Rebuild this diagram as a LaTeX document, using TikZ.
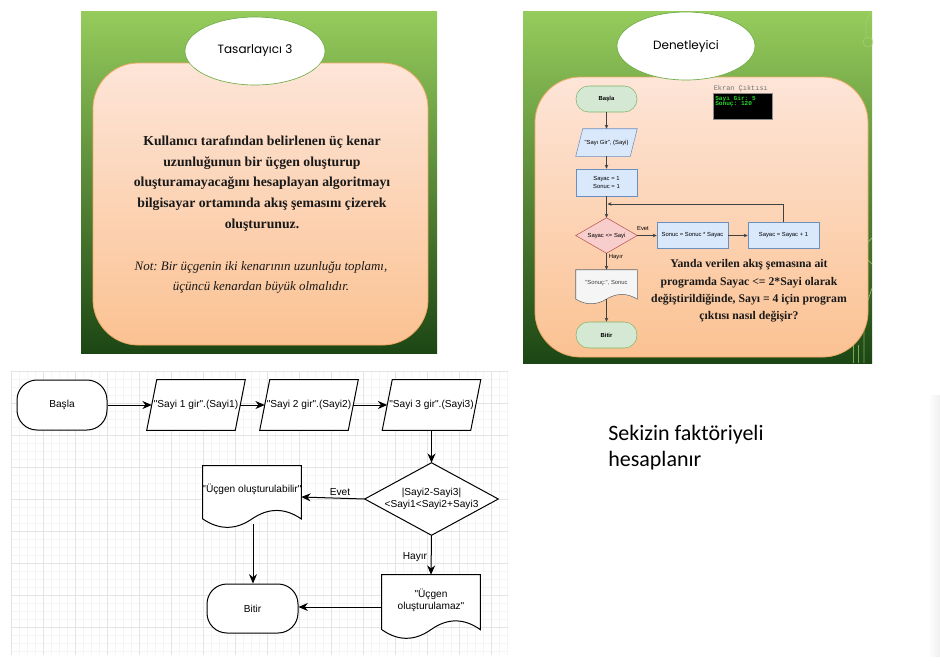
\documentclass[tikz,border=0pt]{standalone}
\usepackage{fontspec}
\setmainfont{Liberation Serif}
\newfontfamily\arialf{Liberation Sans}
\newfontfamily\gothf{Poppins}
\newfontfamily\calf{Carlito}
\newfontfamily\monof{Liberation Mono}
\usetikzlibrary{arrows.meta,calc,shapes.geometric}
\pgfdeclarelayer{back}
\pgfdeclarelayer{mid}
\pgfsetlayers{back,mid,main}
\frenchspacing
\definecolor{gtop}{RGB}{150,204,92}
\definecolor{gmid}{RGB}{88,152,52}
\definecolor{gbot}{RGB}{28,70,20}
\definecolor{ptop}{RGB}{253,229,216}
\definecolor{pbot}{RGB}{251,194,146}
\definecolor{pline}{RGB}{240,170,100}
\definecolor{ellline}{RGB}{112,173,71}
\definecolor{dgfill}{RGB}{213,232,212}
\definecolor{dgline}{RGB}{130,179,102}
\definecolor{dbfill}{RGB}{218,232,252}
\definecolor{dbline}{RGB}{108,142,191}
\definecolor{drfill}{RGB}{248,206,204}
\definecolor{drline}{RGB}{184,84,80}
\definecolor{dgrfill}{RGB}{245,245,245}
\definecolor{dgrline}{RGB}{102,102,102}
\definecolor{gridmin}{RGB}{245,245,245}
\definecolor{gridmaj}{RGB}{228,228,228}
\definecolor{termgreen}{RGB}{40,215,40}
\definecolor{txtdark}{RGB}{25,25,25}
\definecolor{decol}{RGB}{165,210,115}
\tikzset{
  sz/.style 2 args={minimum width=#1*0.75pt, minimum height=#2*0.75pt, inner sep=0pt},
  bfont/.style={font=\arialf\fontsize{7.6}{9}\selectfont},
  sfont/.style={font=\arialf\fontsize{4.4}{5.4}\selectfont},
  bline/.style={draw=black, line width=0.75pt, fill=white},
  barr/.style={draw=black, line width=0.75pt, -{Stealth[length=7pt,width=6pt]}},
  sarr/.style={draw=black!75, line width=0.4pt, -{Stealth[length=3pt,width=2.6pt]}},
  ellnode/.style={ellipse, fill=white, draw=ellline, line width=0.5pt, inner sep=0pt},
  greenpanel/.style={top color=gtop, middle color=gmid, bottom color=gbot},
  peachpanel/.style={top color=ptop, bottom color=pbot, draw=pline, line width=0.6pt, rounded corners=34pt},
  deco/.style={draw=decol, line width=0.6pt, opacity=0.7}
}
\newcommand{\parashape}[3]{%
  \begin{pgfonlayer}{mid}
  \draw[#1] ($(#2.south west)+(-#3,0)$) -- ($(#2.north west)+(#3,0)$) -- ($(#2.north east)+(#3,0)$) -- ($(#2.south east)+(-#3,0)$) -- cycle;
  \end{pgfonlayer}}
\newcommand{\diashape}[2]{%
  \begin{pgfonlayer}{mid}
  \draw[#1] (#2.north) -- (#2.east) -- (#2.south) -- (#2.west) -- cycle;
  \end{pgfonlayer}}
\newcommand{\docshape}[2]{%
  \begin{pgfonlayer}{mid}
  \draw[#1] let \p1=(#2.north west), \p2=(#2.south east), \n1={\x2-\x1}, \n2={\y1-\y2} in
    (\x1,\y1) -- (\x2,\y1) -- (\x2,\y2+0.15*\n2)
    .. controls (\x2-\n1/6,\y2+0.33*\n2) and (\x1+2*\n1/3,\y2+0.33*\n2) .. (\x1+\n1/2,\y2+0.15*\n2)
    .. controls (\x1+\n1/3,\y2-0.03*\n2) and (\x1+\n1/6,\y2-0.03*\n2) .. (\x1,\y2+0.15*\n2) -- cycle;
  \end{pgfonlayer}}
\begin{document}
\begin{tikzpicture}[x=0.75pt,y=-0.75pt]
\useasboundingbox (0,0) rectangle (940,662);
\begin{pgfonlayer}{back}
  \fill[white] (0,0) rectangle (940,662);
  % left panel
  \shade[greenpanel] (81,11) rectangle (437,353);
  \shadedraw[peachpanel] (93,63) rectangle (428,345);
  % right panel
  \shade[greenpanel] (523,11) rectangle (872,363);
  \draw[deco] (871,11) -- (866,22) -- (866,37);
  \draw[deco] (868,42) circle[radius=5];
  \draw[deco] (872,238) -- (866,244) -- (866,258) -- (872,264);
  \draw[deco] (872,288) -- (864,312) -- (864,363);
  \draw[deco] (853,330) -- (853,363);
  \draw[deco] (858,345) -- (858,363);
  \shadedraw[peachpanel] (535,77) rectangle (868,357);
  % grid
  \foreach \gx in {11,19,...,507} \draw[gridmin, line width=0.5pt] (\gx,371) -- (\gx,655);
  \foreach \gy in {371,379,...,655} \draw[gridmin, line width=0.5pt] (11,\gy) -- (508,\gy);
  \foreach \gx in {11,43,...,507} \draw[gridmaj, line width=0.5pt] (\gx,371) -- (\gx,655);
  \foreach \gy in {371,403,...,655} \draw[gridmaj, line width=0.5pt] (11,\gy) -- (508,\gy);
  % faint strip right
  \shade[left color=white, right color=black!6] (928,395) rectangle (940,656);
\end{pgfonlayer}

% ---------- left panel ----------
\node[ellnode, minimum width=105pt, minimum height=51pt] (e1) at (255,51) {\gothf\fontsize{9}{11}\selectfont Tasarlayıcı 3};
\node[align=center, text=txtdark, font=\bfseries\fontsize{10.3}{15.5}\selectfont] (t1) at (262,183.5)
  {Kullanıcı tarafından belirlenen üç kenar\\uzunluğunun bir üçgen oluşturup\\oluşturamayacağını hesaplayan algoritmayı\\bilgisayar ortamında akış şemasını çizerek\\oluşturunuz.};
\node[align=center, text=txtdark, font=\itshape\fontsize{9.7}{15}\selectfont] (t2) at (261,277)
  {Not: Bir üçgenin iki kenarının uzunluğu toplamı,\\üçüncü kenardan büyük olmalıdır.};

% ---------- right panel ----------
\node[ellnode, minimum width=103.5pt, minimum height=51pt] (e2) at (686,46) {\gothf\fontsize{9}{11}\selectfont Denetleyici};

\node[sz={61}{26}, rounded corners=9.5pt, fill=dgfill, draw=dgline, line width=0.4pt, sfont] (rb) at (606.5,99) {\bfseries Başla};
\node[sz={54}{27}, sfont] (rp) at (606.5,142.5) {"Sayı Gir", (Sayi)};
\parashape{fill=dbfill, draw=dbline, line width=0.4pt}{rp}{3.5}
\node[sz={61}{27}, fill=dbfill, draw=dbline, line width=0.4pt, sfont, align=center] (ri) at (606.5,182.5) {Sayac = 1\\Sonuc = 1};
\node[sz={61}{35}, sfont] (rd) at (606.5,235.5) {Sayac <= Sayi};
\diashape{fill=drfill, draw=drline, line width=0.4pt}{rd}
\node[sz={71}{26}, fill=dbfill, draw=dbline, line width=0.4pt, sfont] (r3) at (692.5,235.5) {Sonuc = Sonuc * Sayac};
\node[sz={71}{26}, fill=dbfill, draw=dbline, line width=0.4pt, sfont] (r4) at (783.5,235.5) {Sayac = Sayac + 1};
\node[sz={61}{34}] (rdoc) at (606.5,287) {};
\docshape{fill=dgrfill, draw=dgrline, line width=0.4pt}{rdoc}
\node[sfont, text=black!75] (rdoct) at (606.5,283.5) {"Sonuç:", Sonuc};
\node[sz={61}{26}, rounded corners=9.5pt, fill=dgfill, draw=dgline, line width=0.4pt, sfont] (rbt) at (606.5,335) {\bfseries Bitir};
\coordinate (rj) at (607.5,204);

\draw[sarr] (rb.south) -- (rp.north);
\draw[sarr] (rp.south) -- (ri.north);
\draw[sarr] (ri.south) -- (rd.north);
\draw[sarr] (rd.east) -- (r3.west);
\node[sfont] (lev) at (643,229) {Evet};
\draw[sarr] (r3.east) -- (r4.west);
\draw[sarr] (r4.north) |- (rj);
\draw[sarr] (rd.south) -- (rdoc.north);
\node[sfont] (lhy) at (616,257.5) {Hayır};
\draw[sarr] ($(rdoc.south)+(0,-5)$) -- (rbt.north);

\node[anchor=west, inner sep=0pt, text=black!55, font=\monof\fontsize{5.2}{6}\selectfont] (ekl) at (713.5,89) {Ekran Çıktısı};
\node[sz={59}{26}, anchor=north west, fill=black, draw=black!45, line width=0.4pt] (scr) at (713,93) {};
\node[anchor=west, inner sep=0pt, text=termgreen, font=\monof\bfseries\fontsize{4.6}{5.5}\selectfont] (scr1) at (715,98.5) {Sayı Gir: 5};
\node[anchor=west, inner sep=0pt, text=termgreen, font=\monof\bfseries\fontsize{4.6}{5.5}\selectfont] (scr2) at (715,104.5) {Sonuç: 120};

\node[align=center, text=txtdark, font=\bfseries\fontsize{8.8}{13}\selectfont] (t3) at (749,291)
  {Yanda verilen akış şemasına ait\\programda Sayac <= 2*Sayi olarak\\değiştirildiğinde, Sayı = 4 için program\\çıktısı nasıl değişir?};

% ---------- bottom flowchart ----------
\node[sz={90}{50}, bline, rounded corners=15pt, bfont] (bsl) at (62,405) {Başla};
\node[sz={88}{50}, bfont] (p1) at (196,405) {"Sayi 1 gir".(Sayi1)};
\parashape{bline}{p1}{5}
\node[sz={88}{50}, bfont] (p2) at (309,405) {"Sayi 2 gir".(Sayi2)};
\parashape{bline}{p2}{5}
\node[sz={88}{50}, bfont] (p3) at (431.5,405) {"Sayi 3 gir".(Sayi3)};
\parashape{bline}{p3}{5}
\node[sz={133}{72}, bfont, align=center] (dia) at (431.5,499) {|Sayi2-Sayi3|\\<Sayi1<Sayi2+Sayi3};
\diashape{bline}{dia}
\node[sz={98}{62}] (d1) at (252,497) {};
\docshape{bline}{d1}
\node[bfont] (d1t) at (252,489) {"Üçgen oluşturulabilir"};
\node[sz={91}{49}, bline, rounded corners=15pt, bfont] (bit) at (252.5,608.5) {Bitir};
\node[sz={98}{64}] (d2) at (431,607) {};
\docshape{bline}{d2}
\node[bfont, align=center] (d2t) at (431,600) {"Üçgen\\oluşturulamaz"};

\draw[barr] (bsl.east) -- (p1.west);
\draw[barr] (p1.east) -- (p2.west);
\draw[barr] (p2.east) -- (p3.west);
\draw[barr] (p3.south) -- (dia.north);
\draw[barr] (dia.west) -- (d1.east);
\node[bfont] (bev) at (340,492) {Evet};
\draw[barr] ($(d1.south)+(1,-4)$) -- ($(bit.north)+(0.5,0)$);
\draw[barr] (dia.south) -- (d2.north);
\node[bfont] (bhy) at (415,557) {Hayır};
\draw[barr] (d2.west) -- (d2.west -| bit.east);

% ---------- side text ----------
\node[anchor=base west, inner sep=0pt, font=\calf\fontsize{16.5}{20}\selectfont] (s1) at (608,440) {Sekizin faktöriyeli};
\node[anchor=base west, inner sep=0pt, font=\calf\fontsize{16.5}{20}\selectfont] (s2) at (608,466) {hesaplanır};
\end{tikzpicture}
\end{document}
